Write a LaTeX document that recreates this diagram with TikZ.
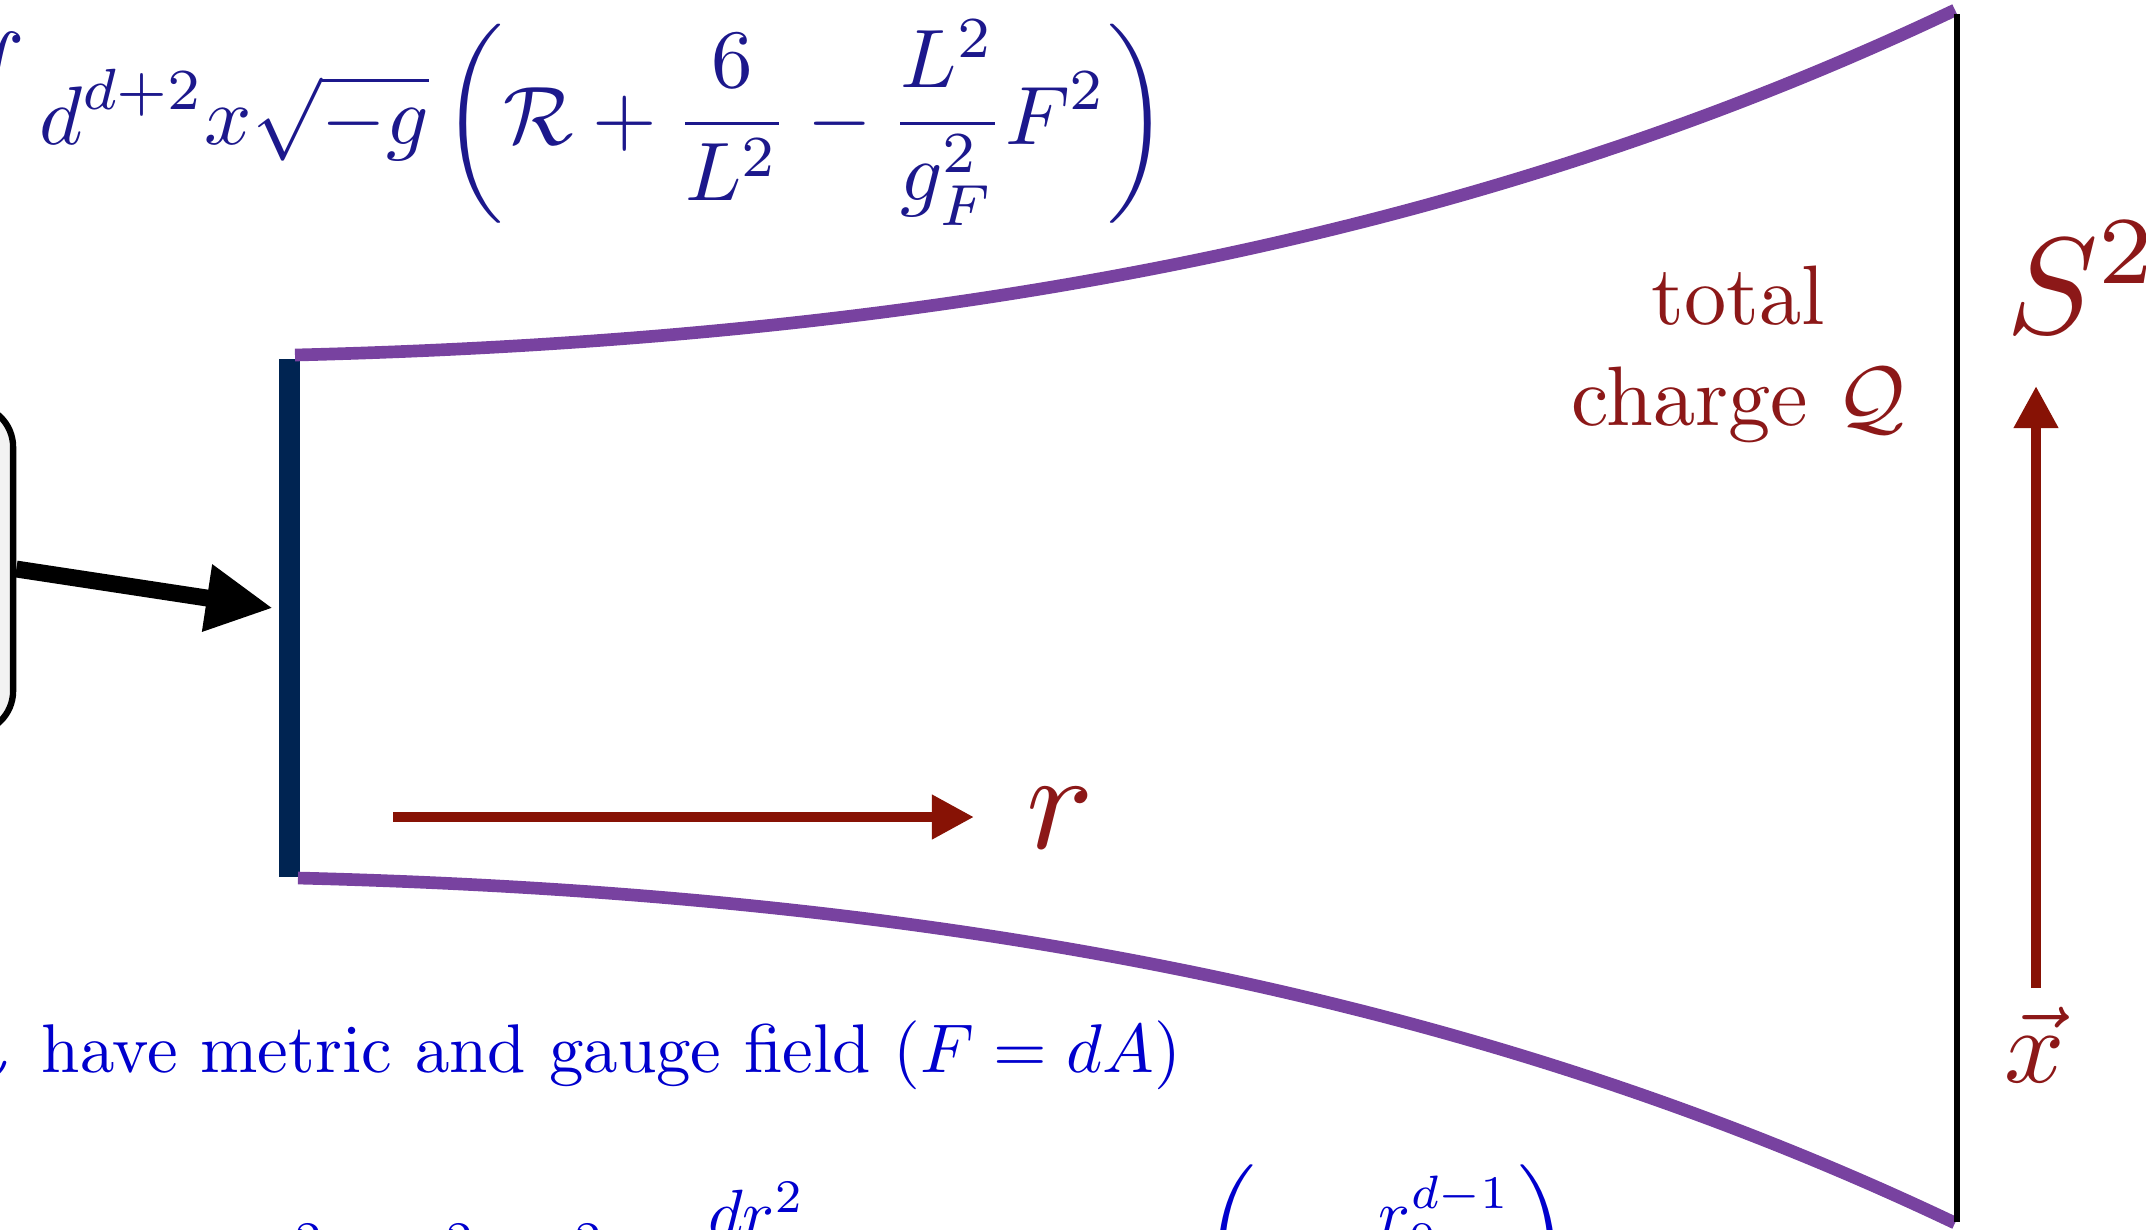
\documentclass[tikz,border=0pt]{standalone}
\usepackage{amsmath}
\usetikzlibrary{arrows.meta}
\definecolor{formblue}{RGB}{28,24,140}
\definecolor{textblue}{RGB}{0,0,205}
\definecolor{labred}{RGB}{140,24,24}
\definecolor{arrred}{RGB}{135,18,5}
\definecolor{curvepurple}{RGB}{120,66,160}
\definecolor{barnavy}{RGB}{0,36,82}
\definecolor{boxgray}{RGB}{242,242,242}
\tikzset{
  purplecurve/.style={draw=curvepurple, line width=3.6pt},
  redarrow/.style={draw=arrred, line width=2.9pt, -{Triangle[length=12pt,width=12pt]}},
  bigarrow/.style={draw=black, line width=4.8pt, -{Triangle[length=19pt,width=18pt]}},
  redlabel/.style={text=labred, inner sep=0pt},
  bluetext/.style={text=textblue, inner sep=0pt},
}
\begin{document}
\begin{tikzpicture}[x=0.01cm,y=-0.01cm]
\useasboundingbox (0,0) rectangle (2146,1229);
\clip (0,0) rectangle (2146,1229);

% left box (only its right edge is visible)
\node[draw=black, line width=1.8pt, fill=boxgray, rounded corners=12pt,
      minimum width=4.26cm, minimum height=3.28cm] (box) at (-200,569) {};

% boundary bar
\node[fill=barnavy, draw=none, inner sep=0pt, minimum width=0.21cm, minimum height=5.18cm] (bar) at (289.5,618) {};

% purple boundaries
\draw[purplecurve] (295,355) .. controls (900,340) and (1450,250) .. (1955,10);
\draw[purplecurve] (298,878) .. controls (900,893) and (1450,983) .. (1955,1223);

% black right boundary
\coordinate (lt) at (1957,14);
\coordinate (lb) at (1957,1222);
\draw[line width=1.6pt] (lt) -- (lb);

% big black arrow
\draw[bigarrow, shorten >=1.5pt] (box.east) -- ([yshift=2.6pt]bar.west);

% r arrow
\node[redlabel, anchor=base west] (rlab) at (1026,848) {\scalebox{4.0}{$r$}};
\coordinate (rs) at (393,817);
\coordinate (re) at (974,817);
\draw[redarrow] (rs) -- (re);

% S^2 and x arrow
\node[redlabel, anchor=base west] (S2) at (2006,333) {\scalebox{3.9}{$S^2$}};
\node[redlabel, anchor=base] (xvec) at (2035,1082) {\scalebox{3.0}{$\vec{x}$}};
\coordinate (vs) at (2036,988);
\coordinate (ve) at (2036,386);
\draw[redarrow] (vs) -- (ve);

% total charge
\node[redlabel] (charge) at (1738,355) {\scalebox{2.4}{\begin{tabular}{@{}c@{}}total\\charge $\mathcal{Q}$\end{tabular}}};

% texts
\node[text=formblue, anchor=base east, inner sep=0pt] (action) at (1169,144)
  {\scalebox{2.36}{$\displaystyle \int d^{d+2}x\sqrt{-g}\left(\mathcal{R}+\frac{6}{L^2}-\frac{L^2}{g_F^2}F^2\right)$}};
\node[bluetext, anchor=base east] (gmn) at (14,1072) {\scalebox{1.96}{$g_{\mu\nu}$}};
\node[bluetext, anchor=base west] (meta) at (41,1072) {\scalebox{1.96}{have metric and gauge field $(F = dA)$}};
\node[bluetext, anchor=base west] (metric) at (228,1282)
  {\scalebox{1.9}{$\displaystyle ds^2 = r^2 f dt^2 +\mkern3mu \frac{dr^2}{r^2 f}\,, \qquad f(r) = \left(1-\frac{r_0^{d-1}}{r^{d-1}}\right)$}};
\end{tikzpicture}
\end{document}
